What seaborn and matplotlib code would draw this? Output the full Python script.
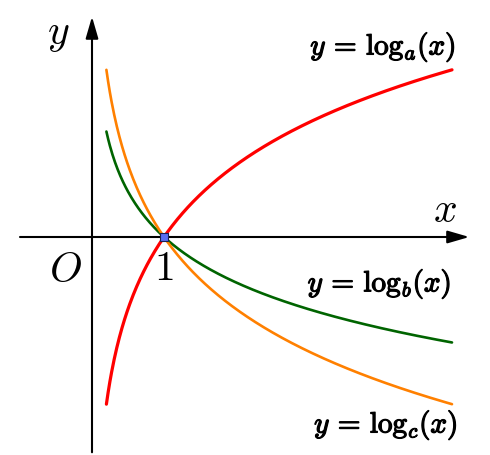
import numpy as np
import pandas as pd
import matplotlib
matplotlib.use('Agg')
import matplotlib.pyplot as plt
import matplotlib.patheffects as pe
import seaborn as sns

# bases of the three logarithm curves
bases = [2, 1/3, 1/2]
names = ['a', 'b', 'c']
colors = ['#ff0000', '#006400', '#ff8000']
widths = [2.3, 1.9, 1.9]
x_start, x_end = 0.2, 5.0

sns.set_theme(style='white')
plt.rcParams['mathtext.fontset'] = 'cm'
plt.rcParams['font.family'] = ['DejaVu Sans']
plt.rcParams['text.color'] = 'black'

fig = plt.figure(figsize=(4.9, 4.55), dpi=100)
ax = fig.add_axes([0, 0, 1, 1])

xs = np.linspace(x_start, x_end, 400)
frames = []
for name, base in zip(names, bases):
    frames.append(pd.DataFrame({'x': xs, 'y': np.log(xs) / np.log(base), 'curve': name}))
df = pd.concat(frames)

for name, col, lw in zip(names, colors, widths):
    sns.lineplot(data=df[df['curve'] == name], x='x', y='y', color=col,
                 linewidth=lw, ax=ax, legend=False)

# axes with arrows
arrow = dict(arrowstyle='-|>,head_length=1.1,head_width=0.32', color='black',
             linewidth=1.5, shrinkA=0, shrinkB=0)
ax.annotate('', xy=(5.24, 0), xytext=(-1.0, 0), arrowprops=arrow)
ax.annotate('', xy=(0, 3.06), xytext=(0, -2.99), arrowprops=arrow)

# intersection point
ax.plot([1], [0], marker='s', markersize=5.5, color='#5a6df0',
        markeredgecolor='#1a2050', markeredgewidth=0.8, zorder=5)

ax.text(-0.47, 2.83, '$y$', fontsize=30, ha='center', va='center', color='black')
ax.text(4.9, 0.37, '$x$', fontsize=30, ha='center', va='center', color='black')
ax.text(-0.375, -0.46, '$O$', fontsize=30, ha='center', va='center', color='black')
ax.text(1.0, -0.43, '$1$', fontsize=30, ha='center', va='center', color='black')

label_pos = [(4.04, 2.64), (3.99, -0.65), (4.08, -2.61)]
for name, (lx, ly) in zip(names, label_pos):
    ax.text(lx, ly, r'$y\,=\,\log_{%s}\!(x)$' % name, fontsize=21, ha='center',
            va='center', color='black',
            path_effects=[pe.withStroke(linewidth=0.9, foreground='black')])

ax.set_xlim(-92 / 72, 398 / 72)
ax.set_ylim(-218 / 72, 237 / 72)
ax.axis('off')

fig.savefig('out.png', dpi=100)
